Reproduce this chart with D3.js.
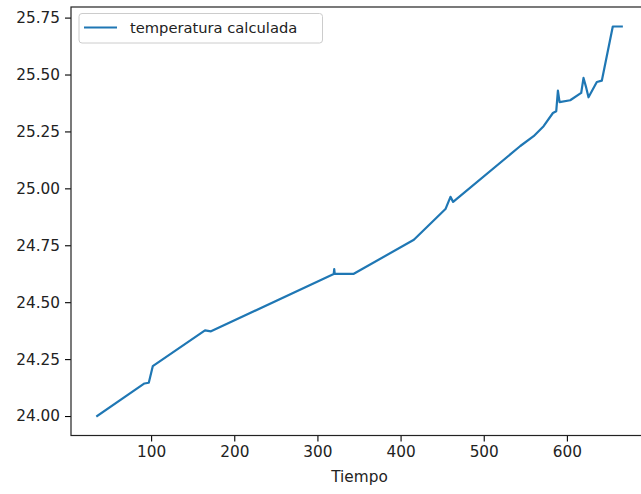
<!DOCTYPE html>
<html>
<head>
<meta charset="utf-8">
<script src="https://cdn.jsdelivr.net/npm/d3@7"></script>
<style>
  body { margin: 0; background: #fff; }
  svg { display: block; font-family: "DejaVu Sans", sans-serif; }
</style>
</head>
<body>
<svg id="chart" width="641" height="494"></svg>
<script>
// data
const tiempo = [35.2, 92, 97.2, 102, 164.8, 172, 319.6, 320.2, 320.8, 343.2, 416, 454, 460, 463.2,
  544, 560, 572, 583.2, 587.2, 589.2, 591.2, 604, 617.2, 620, 622.8, 626, 636, 642, 655.2, 666];
const temperatura = [24.00, 24.143, 24.146, 24.219, 24.376, 24.372, 24.624, 24.645, 24.624, 24.624, 24.774, 24.909, 24.9625, 24.9406,
  25.186, 25.229, 25.273, 25.331, 25.339, 25.429, 25.379, 25.387, 25.419, 25.485, 25.448, 25.400, 25.467, 25.473, 25.711, 25.711];
const xTicks = [100, 200, 300, 400, 500, 600];
const yTicks = [24.00, 24.25, 24.50, 24.75, 25.00, 25.25, 25.50, 25.75];
const seriesLabel = "temperatura calculada";
const xLabel = "Tiempo";

const svg = d3.select("#chart");
const mLeft = 71, mRight = 648, mTop = 7, mBottom = 435.5;
const fontSize = 15.3;

// matplotlib-style 5% margins
const xe = d3.extent(tiempo), ye = d3.extent(temperatura);
const xm = (xe[1] - xe[0]) * 0.05, ym = (ye[1] - ye[0]) * 0.05;
const x = d3.scaleLinear().domain([xe[0] - xm, xe[1] + xm]).range([mLeft, mRight]);
const y = d3.scaleLinear().domain([ye[0] - ym, ye[1] + ym]).range([mBottom, mTop]);

const pts = tiempo.map((t, i) => [t, temperatura[i]]);
const line = d3.line().x(d => x(d[0])).y(d => y(d[1]));

svg.append("path")
  .datum(pts)
  .attr("d", line)
  .attr("fill", "none")
  .attr("stroke", "#1f77b4")
  .attr("stroke-width", 2.2)
  .attr("stroke-linejoin", "round")
  .attr("stroke-linecap", "square");

// axes
const xAxis = d3.axisBottom(x).tickValues(xTicks).tickSize(6).tickPadding(5).tickFormat(d3.format("d"));
const yAxis = d3.axisLeft(y).tickValues(yTicks).tickSize(6).tickPadding(5).tickFormat(d3.format(".2f"));

const gx = svg.append("g").attr("transform", `translate(0,${mBottom})`).call(xAxis);
const gy = svg.append("g").attr("transform", `translate(${mLeft},0)`).call(yAxis);
[gx, gy].forEach(g => {
  g.select(".domain").remove();
  g.selectAll(".tick line").attr("stroke", "#000").attr("stroke-width", 1.1);
  g.selectAll(".tick text").attr("fill", "#222").style("font-size", fontSize + "px").style("font-family", "DejaVu Sans");
});

// spines
svg.append("rect")
  .attr("x", mLeft).attr("y", mTop)
  .attr("width", mRight - mLeft).attr("height", mBottom - mTop)
  .attr("fill", "none").attr("stroke", "#222").attr("stroke-width", 1.2);

svg.append("text")
  .attr("x", (mLeft + mRight) / 2).attr("y", 482)
  .attr("text-anchor", "middle")
  .attr("fill", "#222")
  .style("font-size", fontSize + "px")
  .text(xLabel);

// legend
const lg = svg.append("g");
lg.append("rect")
  .attr("x", 79).attr("y", 13.5).attr("width", 243.5).attr("height", 29.5)
  .attr("rx", 3).attr("fill", "#fff").attr("fill-opacity", 0.8)
  .attr("stroke", "#ccc").attr("stroke-width", 1);
lg.append("line")
  .attr("x1", 84).attr("x2", 117).attr("y1", 27.5).attr("y2", 27.5)
  .attr("stroke", "#1f77b4").attr("stroke-width", 2.2);
lg.append("text")
  .attr("x", 130).attr("y", 33)
  .attr("fill", "#222")
  .style("font-size", "14.7px")
  .text(seriesLabel);
</script>
</body>
</html>
